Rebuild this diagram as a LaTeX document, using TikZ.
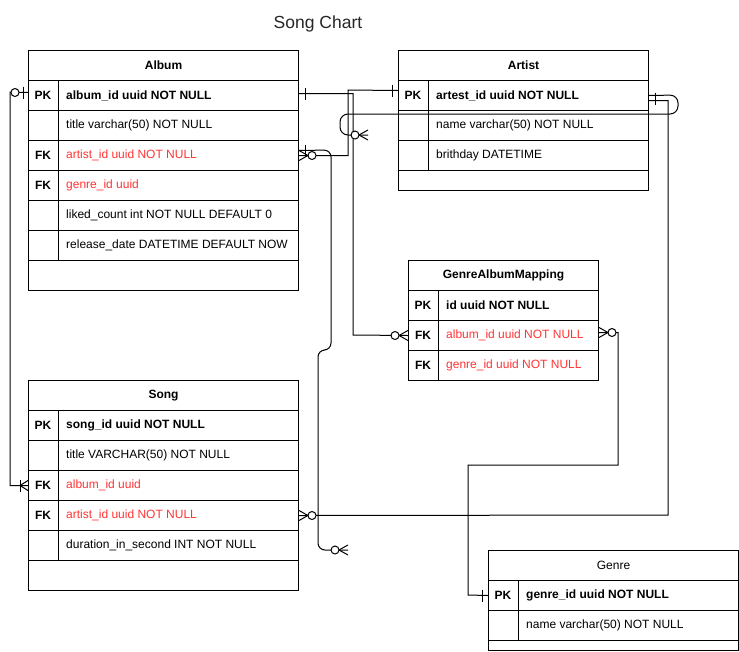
\documentclass[tikz,border=0pt]{standalone}
\usepackage{fontspec}
\setmainfont{Liberation Sans}
\usetikzlibrary{calc}
\definecolor{errred}{RGB}{255,51,51}
\tikzset{
 rowbox/.style={draw, line width=1pt, anchor=north west, minimum height=30pt, inner sep=0pt},
 hdrbox/.style={rowbox, font=\fontsize{12}{14}\selectfont\bfseries},
 hdrplain/.style={rowbox, font=\fontsize{12}{14}\selectfont},
 keytxt/.style={inner sep=0pt, font=\fontsize{12}{14}\selectfont\bfseries},
 valtxt/.style={inner sep=0pt, anchor=west, font=\fontsize{12}{14}\selectfont},
 pkv/.style={font=\fontsize{12}{14}\selectfont\bfseries},
 fkv/.style={text=errred},
 conn/.style={line width=1pt},
 mk/.style={line width=1pt},
}
% #1 name, #2 x, #3 y, #4 width, #5 key, #6 text, #7 text style
\newcommand{\erow}[7]{%
  \node[rowbox, minimum width=#4] (#1) at (#2,#3) {};
  \draw[line width=1pt] ([xshift=30pt]#1.north west) -- ([xshift=30pt]#1.south west);
  \node[keytxt] (#1-k) at ([xshift=15pt]#1.west) {#5};
  \node[valtxt, #7] (#1-t) at ([xshift=38pt]#1.west) {#6};
}
\newcommand{\mkOne}[2]{\begin{scope}[shift={#1},xscale=#2]\draw[mk] (6,-6) -- (6,6);\end{scope}}
\newcommand{\mkZeroMany}[2]{\begin{scope}[shift={#1},xscale=#2]\draw[mk] (0,-5) -- (9,0) -- (0,5); \draw[mk, fill=white] (13,0) circle[radius=4pt];\end{scope}}
\newcommand{\mkZeroOne}[2]{\begin{scope}[shift={#1},xscale=#2]\draw[mk] (5,-6) -- (5,6); \draw[mk, fill=white] (13,0) circle[radius=4pt];\end{scope}}
\newcommand{\mkOneMany}[2]{\begin{scope}[shift={#1},xscale=#2]\draw[mk] (0,-5) -- (8,0) -- (0,5); \draw[mk] (8,-6) -- (8,6);\end{scope}}
\begin{document}
\begin{tikzpicture}[x=1pt,y=-1pt]
\useasboundingbox (0,0) rectangle (739,651);
\node[font=\fontsize{17.5}{20}\selectfont, text=black!85] (title) at (318,24) {Song Chart};

% Album
\node[hdrbox, minimum width=270pt] (album) at (28,50) {Album};
\erow{album-1}{28}{80}{270pt}{PK}{album\_id uuid NOT NULL}{pkv}
\erow{album-2}{28}{110}{270pt}{}{title varchar(50) NOT NULL}{}
\erow{album-3}{28}{140}{270pt}{FK}{artist\_id uuid NOT NULL}{fkv}
\erow{album-4}{28}{170}{270pt}{FK}{genre\_id uuid}{fkv}
\erow{album-5}{28}{200}{270pt}{}{liked\_count int NOT NULL DEFAULT 0}{}
\erow{album-6}{28}{230}{270pt}{}{release\_date DATETIME DEFAULT NOW}{}
\node[rowbox, minimum width=270pt] (album-e) at (28,260) {};

% Artist
\node[hdrbox, minimum width=250pt] (artist) at (398,50) {Artist};
\erow{artist-1}{398}{80}{250pt}{PK}{artest\_id uuid NOT NULL}{pkv}
\erow{artist-2}{398}{110}{250pt}{}{name varchar(50) NOT NULL}{}
\erow{artist-3}{398}{140}{250pt}{}{brithday DATETIME}{}
\node[rowbox, minimum width=250pt, minimum height=20pt] (artist-e) at (398,170) {};

% GenreAlbumMapping
\node[hdrbox, minimum width=190pt] (gam) at (408,260) {GenreAlbumMapping};
\erow{gam-1}{408}{290}{190pt}{PK}{id uuid NOT NULL}{pkv}
\erow{gam-2}{408}{320}{190pt}{FK}{album\_id uuid NOT NULL}{fkv}
\erow{gam-3}{408}{350}{190pt}{FK}{genre\_id uuid NOT NULL}{fkv}

% Song
\node[hdrbox, minimum width=270pt] (song) at (28,380) {Song};
\erow{song-1}{28}{410}{270pt}{PK}{song\_id uuid NOT NULL}{pkv}
\erow{song-2}{28}{440}{270pt}{}{title VARCHAR(50) NOT NULL}{}
\erow{song-3}{28}{470}{270pt}{FK}{album\_id uuid}{fkv}
\erow{song-4}{28}{500}{270pt}{FK}{artist\_id uuid NOT NULL}{fkv}
\erow{song-5}{28}{530}{270pt}{}{duration\_in\_second INT NOT NULL}{}
\node[rowbox, minimum width=270pt] (song-e) at (28,560) {};

% Genre
\node[hdrplain, minimum width=250pt] (genre) at (488,550) {Genre};
\erow{genre-1}{488}{580}{250pt}{PK}{genre\_id uuid NOT NULL}{pkv}
\erow{genre-2}{488}{610}{250pt}{}{name varchar(50) NOT NULL}{}
\node[rowbox, minimum width=250pt, minimum height=10pt] (genre-e) at (488,640) {};

% dangling ends
\coordinate (d1) at (348,550);
\coordinate (d2) at (368,135);

% connectors
\draw[conn] ([yshift=3pt]album-1.west) -- (10,92) |- (song-3.west);
\draw[conn] ([yshift=2pt]album-1.east) -| (353,335) -- (gam-2.west);
\draw[conn] (album-3.east) -| (348,90) -- ([yshift=5pt]artist-1.west);
\draw[conn, rounded corners=7pt] ([yshift=5pt]album-3.east) -- (331,150) -- (331,350) -- (318,350) -- (318,550) -- (d1);
\draw[conn] ([yshift=-5pt]artist-1.east) -| (668,515) -- (song-4.east);
\draw[conn, rounded corners=8pt] (artist-1.east) -- (678,95) -- (678,114) -- (340,114) -- (340,135) -- (d2);
\draw[conn] ([yshift=3pt]gam-2.east) -| (618,465) -| (468,595) -- (genre-1.west);

% markers
\mkZeroOne{([yshift=3pt]album-1.west)}{-1}
\mkOneMany{(song-3.west)}{-1}
\mkOne{([yshift=2pt]album-1.east)}{1}
\mkZeroMany{(gam-2.west)}{-1}
\mkZeroMany{(album-3.east)}{1}
\mkOne{([yshift=5pt]artist-1.west)}{-1}
\mkOne{([yshift=5pt]album-3.east)}{1}
\mkZeroMany{(d1)}{-1}
\mkOne{([yshift=-3pt]artist-1.east)}{1}
\mkZeroMany{(song-4.east)}{1}
\mkZeroMany{(d2)}{-1}
\mkZeroMany{([yshift=3pt]gam-2.east)}{1}
\mkOne{(genre-1.west)}{-1}
\end{tikzpicture}
\end{document}
